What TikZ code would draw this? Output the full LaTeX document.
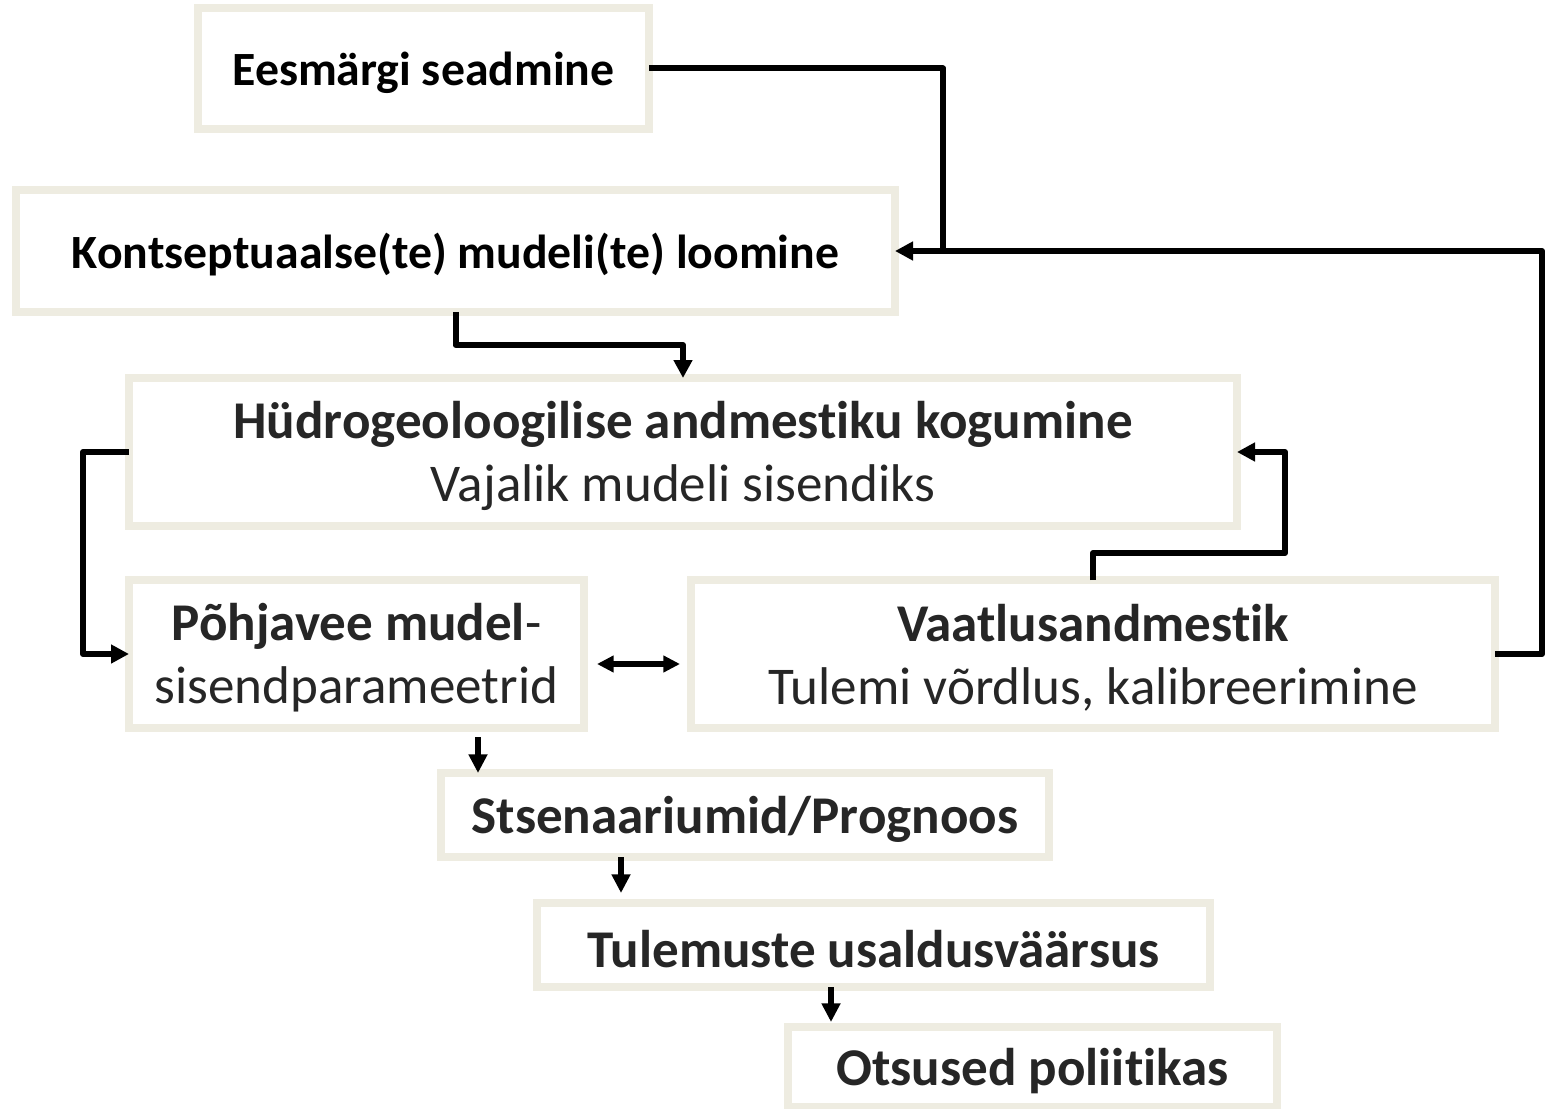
\documentclass[tikz,border=0pt]{standalone}
\usepackage{fontspec}
\setmainfont{Carlito}[Ligatures={NoCommon}]
\usetikzlibrary{arrows.meta,calc}
\definecolor{bord}{HTML}{EEECE1}
\definecolor{txt}{HTML}{262626}
\begin{document}
\begin{tikzpicture}[x=0.75pt,y=-0.75pt,
  box/.style={draw=bord,line width=6pt,inner sep=0pt,outer sep=0pt,fill=white},
  lbl/.style={inner sep=0pt,align=center,yshift=-3pt},
  fa/.style={font=\fontsize{35.8}{43}\selectfont\bfseries,text=black},
  fb/.style={font=\fontsize{39.8}{47.25}\selectfont,text=txt},
  plainline/.style={line width=4.5pt,line join=round},
  conn/.style={plainline,-{Triangle[length=13.5pt,width=13.5pt]}},
  dconn/.style={plainline,{Triangle[length=12.5pt,width=12pt]}-{Triangle[length=12.5pt,width=12pt]}},
  conn2/.style={plainline,-{Triangle[length=14pt,width=13.5pt]}}
]
\useasboundingbox (0,0) rectangle (1546,1109);
\fill[white] (0,0) rectangle (1546,1109);

\node[box,minimum width=338.25pt,minimum height=90.75pt] (b1) at (423.5,68.5) {};
\node[box,minimum width=659.25pt,minimum height=91.5pt] (b2) at (455.5,251) {};
\node[box,minimum width=831pt,minimum height=111pt] (b3) at (683,452) {};
\node[box,minimum width=341.25pt,minimum height=111pt] (b4) at (356.5,654) {};
\node[box,minimum width=603pt,minimum height=111pt] (b5) at (1093,654) {};
\node[box,minimum width=456pt,minimum height=63pt] (b6) at (745,815) {};
\node[box,minimum width=504.75pt,minimum height=63pt] (b7) at (873.5,945) {};
\node[box,minimum width=366.75pt,minimum height=60pt] (b8) at (1032.5,1067) {};

\node[lbl,fa] (t1) at (b1.center) {Eesmärgi seadmine};
\node[lbl,fa] (t2) at (b2.center) {Kontseptuaalse(te) mudeli(te) loomine};
\node[lbl,fb] (t3) at (b3.center) {\textbf{Hüdrogeoloogilise andmestiku kogumine}\\Vajalik mudeli sisendiks};
\node[lbl,fb] (t4) at (b4.center) {\textbf{Põhjavee mudel}-\\sisendparameetrid};
\node[lbl,fb] (t5) at (b5.center) {\textbf{Vaatlusandmestik}\\Tulemi võrdlus, kalibreerimine};
\node[lbl,fb] (t6) at (b6.center) {\textbf{Stsenaariumid/Prognoos}};
\node[lbl,fb] (t7) at (b7.center) {\textbf{Tulemuste usaldusväärsus}};
\node[lbl,fb] (t8) at (b8.center) {\textbf{Otsused poliitikas}};

\coordinate (j) at ($(b2.east)+(48,0)$);
\draw[conn] (b5.east) -- ++(47,0) |- (b2.east);
\draw[plainline] (b1.east) -| (j);
\draw[conn] (b2.south) -- ++(0,33) -| (b3.north);
\draw[conn] (b3.west) -- ++(-46,0) |- (b4.west);
\draw[conn] (b5.north) |- ($(b3.east)+(48,101)$) |- (b3.east);
\draw[dconn,shorten <=9.75pt,shorten >=8.25pt] ([yshift=-7.5pt]b4.east) -- ([yshift=-7.5pt]b5.west);

\coordinate (a1) at ($(b6.north west)+(37,0)$);
\draw[conn2,shorten <=7pt] (b4.south -| a1) -- (a1);
\coordinate (a2) at ($(b7.north west)+(84,0)$);
\draw[conn2,shorten >=7.5pt] (b6.south -| a2) -- (a2);
\coordinate (a3) at ($(b8.north west)+(43,0)$);
\draw[conn2,shorten >=3.75pt] (b7.south -| a3) -- (a3);
\end{tikzpicture}
\end{document}
